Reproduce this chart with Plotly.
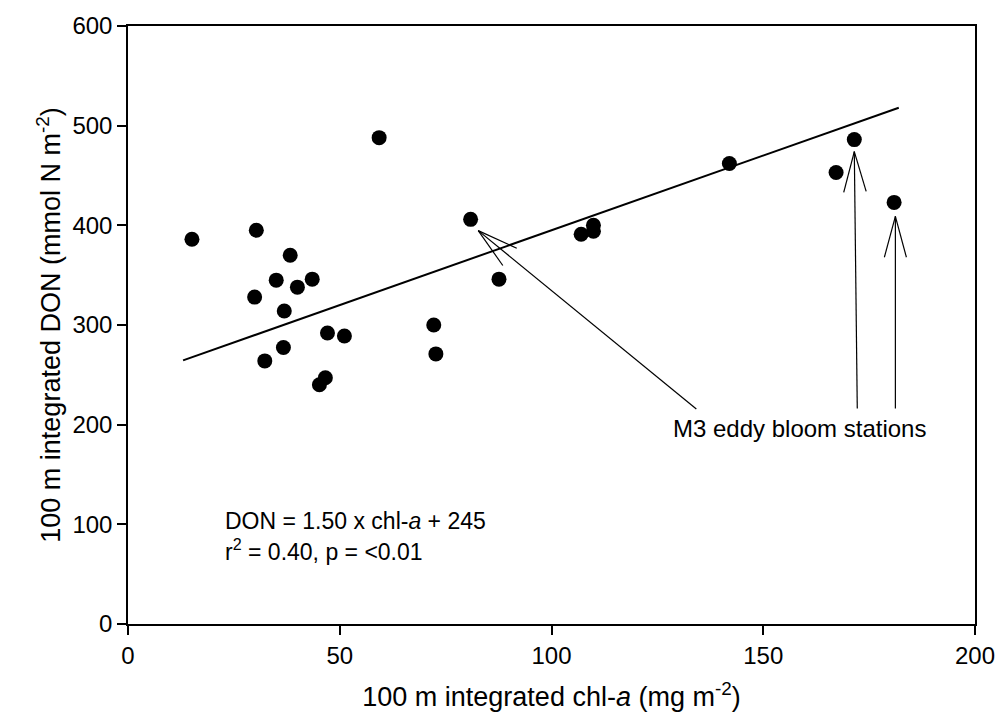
import plotly.graph_objects as go

# Data
chl_a = [15.1, 30.3, 38.3, 35.0, 43.5, 40.0, 29.9, 36.9, 47.1, 51.1, 36.7, 32.3,
         46.6, 45.2, 59.3, 72.2, 72.7, 80.9, 87.6, 107.0, 109.9, 109.9, 142.0,
         167.2, 171.5, 180.9]
don = [386, 395, 370, 345, 346, 338, 328, 314, 292, 289, 277.5, 264,
       247, 240, 488, 300, 271, 406, 346, 391, 400, 394, 462,
       453, 486, 423]

slope = 1.50
intercept = 245
fit_x = [13.0, 182.0]
fit_y = [slope * v + intercept for v in fit_x]

x_ticks = [0, 50, 100, 150, 200]
y_ticks = [0, 100, 200, 300, 400, 500, 600]

FONT = "Liberation Sans, Arial, sans-serif"

fig = go.Figure()
fig.add_trace(go.Scatter(x=fit_x, y=fit_y, mode="lines",
                         line=dict(color="black", width=2), showlegend=False,
                         hoverinfo="skip"))
fig.add_trace(go.Scatter(x=chl_a, y=don, mode="markers",
                         marker=dict(color="black", size=15, line=dict(width=0)),
                         showlegend=False))

# Arrows (open V heads) pointing to M3 eddy bloom stations
arrows = [
    # tip, barb1, barb2, tail
    ((82.7, 394.7), (91.8, 377.0), (88.5, 359.7), (134.2, 215.7)),
    ((171.5, 474.0), (169.0, 433.0), (174.3, 434.0), (172.2, 216.3)),
    ((181.2, 409.0), (178.6, 368.0), (183.8, 368.0), (181.2, 216.3)),
]
shapes = []
for tip, b1, b2, tail in arrows:
    for end in (b1, b2, tail):
        shapes.append(dict(type="line", xref="x", yref="y",
                           x0=tip[0], y0=tip[1], x1=end[0], y1=end[1],
                           line=dict(color="black", width=1.2)))

annotations = [
    dict(x=158.6, y=196, xref="x", yref="y", text="M3 eddy bloom stations",
         showarrow=False, xanchor="center", yanchor="middle",
         font=dict(family=FONT, size=24, color="black")),
    dict(x=22.5, y=103.5, xref="x", yref="y",
         text="DON = 1.50 x chl-<i>a</i> + 245",
         showarrow=False, xanchor="left", yanchor="middle",
         font=dict(family=FONT, size=23, color="black")),
    dict(x=22.5, y=74, xref="x", yref="y",
         text="r<sup>2</sup> = 0.40, p = &lt;0.01",
         showarrow=False, xanchor="left", yanchor="middle",
         font=dict(family=FONT, size=23, color="black")),
]

axis_common = dict(showgrid=False, zeroline=False, showline=True,
                   linecolor="black", linewidth=1.5, mirror=True,
                   ticks="outside", ticklen=9, tickwidth=1.5, tickcolor="black",
                   tickfont=dict(family=FONT, size=24, color="black"))

fig.update_layout(
    width=1007, height=726,
    margin=dict(l=127.5, r=22.5, t=23, b=102),
    paper_bgcolor="white", plot_bgcolor="white",
    shapes=shapes, annotations=annotations,
    xaxis=dict(range=[0, 200], tickvals=x_ticks,
               title=dict(text="100 m integrated chl-<i>a</i> (mg m<sup>-2</sup>)",
                          font=dict(family=FONT, size=27, color="black"),
                          standoff=20),
               **axis_common),
    yaxis=dict(range=[0, 600], tickvals=y_ticks,
               title=dict(text="100 m integrated DON (mmol N m<sup>-2</sup>)",
                          font=dict(family=FONT, size=27, color="black"),
                          standoff=4),
               **axis_common),
)

fig.write_html("out.html")
